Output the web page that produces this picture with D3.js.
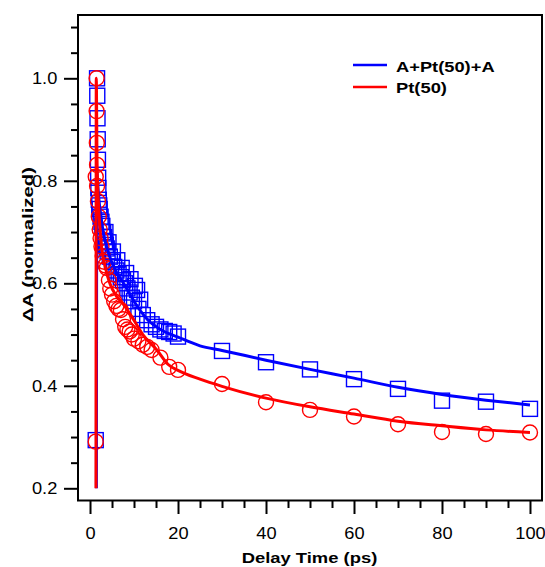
<!DOCTYPE html>
<html><head>
<meta charset="utf-8">
<script src="https://d3js.org/d3.v7.min.js"></script>
<style>
  body { margin: 0; background: #fff; }
  text { font-family: "Liberation Sans", Arial, sans-serif; }
  .tick line { stroke: black; stroke-width: 2px; }
</style>
</head>
<body>
<svg id="chart" width="545" height="567"></svg>
<script>

// A+Pt(50)+A, squares
const blueT = [1.3, 1.6, 1.65, 1.7, 1.75, 1.8, 1.85, 1.9, 2.0, 2.1, 2.2, 2.4, 2.6, 2.8, 3.0, 3.2, 3.4, 3.6, 3.8, 4.0,
  4.5, 5.0, 5.5, 6.0, 6.5, 7.0, 7.5, 8.0, 8.5, 9.0, 9.5, 10, 11, 12, 13, 14, 15, 16, 17, 18, 19, 20,
  3.5, 4.2, 5.2, 6.2, 7.2, 8.2, 9.2, 10.2, 10.7, 11.4,
  30, 40, 50, 60, 70, 80, 90, 100];
const blueV = [0.294, 1.0, 0.966, 0.922, 0.881, 0.841, 0.806, 0.786, 0.763, 0.752, 0.745, 0.73, 0.72, 0.712, 0.70, 0.69, 0.682, 0.675, 0.668, 0.662,
  0.652, 0.642, 0.632, 0.625, 0.618, 0.612, 0.606, 0.60, 0.59, 0.582, 0.572, 0.565, 0.55, 0.538, 0.528, 0.52, 0.515, 0.51, 0.507, 0.505, 0.502, 0.496,
  0.70, 0.68, 0.662, 0.645, 0.63, 0.62, 0.608, 0.595, 0.587, 0.568,
  0.468, 0.446, 0.432, 0.413, 0.394, 0.371, 0.369, 0.355];

// Pt(50), circles
const redT = [1.3, 1.5, 1.5, 1.55, 1.6, 1.3, 1.6, 1.8, 2.0, 2.2, 2.4, 2.6, 2.9, 3.2, 3.5, 3.8, 4.3, 4.6, 5.0, 5.5,
  6.0, 6.5, 7.0, 7.5, 8.0, 8.5, 9.0, 9.5, 10, 11, 12, 13, 14, 16, 18, 20,
  30, 40, 50, 60, 70, 80, 90, 100];
const redV = [0.291, 1.0, 0.936, 0.874, 0.831, 0.808, 0.79, 0.76, 0.73, 0.705, 0.688, 0.672, 0.653, 0.642, 0.635, 0.63, 0.606, 0.59, 0.578, 0.565,
  0.556, 0.55, 0.548, 0.53, 0.515, 0.51, 0.506, 0.5, 0.492, 0.487, 0.48, 0.476, 0.47, 0.455, 0.437, 0.431,
  0.4035, 0.368, 0.353, 0.340, 0.325, 0.310, 0.306, 0.309];

// fit curves
const blueFitT = [1.45, 1.55, 1.7, 2.0, 2.5, 3.0, 4.0, 5.0, 6.0, 8.0, 10, 13, 16, 20, 25, 30, 40, 50, 60, 70, 80, 90, 100];
const blueFitV = [0.2, 0.82, 0.80, 0.765, 0.73, 0.70, 0.665, 0.64, 0.622, 0.595, 0.565, 0.53, 0.51, 0.495, 0.478, 0.469, 0.450, 0.432, 0.415, 0.397, 0.383, 0.372, 0.3625];
const redFitT = [1.36, 1.42, 1.6, 1.9, 2.2, 2.65, 3.5, 4.5, 6, 7.5, 9.5, 12, 15.2, 17.7, 20, 25, 30, 40, 50, 60, 70, 80, 90, 100];
const redFitV = [0.2, 1.0, 0.84, 0.76, 0.715, 0.67, 0.63, 0.6, 0.575, 0.56, 0.535, 0.5, 0.47, 0.442, 0.43, 0.413, 0.399, 0.376, 0.359, 0.345, 0.331, 0.322, 0.314, 0.309];

const xMajor = [0, 20, 40, 60, 80, 100];
const xMinor = [5, 10, 15, 25, 30, 35, 45, 50, 55, 65, 70, 75, 85, 90, 95];
const yMajor = [0.2, 0.4, 0.6, 0.8, 1.0];
const yMinor = [0.25, 0.3, 0.35, 0.45, 0.5, 0.55, 0.65, 0.7, 0.75, 0.85, 0.9, 0.95, 1.05, 1.1];

const seriesNames = ["A+Pt(50)+A", "Pt(50)"];
const seriesColors = ["#0000ff", "#ff0000"];

const svg = d3.select("#chart");
const plot = { left: 78, right: 542, top: 15, bottom: 500.5 };

const x = d3.scaleLinear().domain([-2.73, 102.73]).range([plot.left, plot.right]);
const y = d3.scaleLinear().domain([0.2, 1.0]).range([488.3, 78.3]);

// frame
svg.append("rect")
  .attr("x", plot.left).attr("y", plot.top)
  .attr("width", plot.right - plot.left).attr("height", plot.bottom - plot.top)
  .attr("fill", "none").attr("stroke", "black").attr("stroke-width", 2);

// x axis
const gx = svg.append("g").attr("transform", "translate(0," + (plot.bottom + 0.5) + ")");
gx.call(d3.axisBottom(x).tickValues(xMajor).tickSize(13).tickFormat(d3.format("d")));
gx.select(".domain").remove();
gx.selectAll("text")
  .attr("y", 0).attr("dy", 0)
  .attr("fill", "black").attr("font-size", 16)
  .attr("transform", "translate(0,38) scale(1.14,1)");
const gxm = svg.append("g").attr("transform", "translate(0," + (plot.bottom + 0.5) + ")");
gxm.call(d3.axisBottom(x).tickValues(xMinor).tickSize(7).tickFormat(""));
gxm.select(".domain").remove();

// y axis
const gy = svg.append("g").attr("transform", "translate(" + plot.left + ",0)");
gy.call(d3.axisLeft(y).tickValues(yMajor).tickSize(14).tickFormat(d3.format(".1f")));
gy.select(".domain").remove();
gy.selectAll("text")
  .attr("x", 0).attr("dy", "0.35em")
  .attr("fill", "black").attr("font-size", 16)
  .attr("transform", "translate(-20.7,0) scale(1.14,1)");
const gym = svg.append("g").attr("transform", "translate(" + plot.left + ",0)");
gym.call(d3.axisLeft(y).tickValues(yMinor).tickSize(7).tickFormat(""));
gym.select(".domain").remove();

// axis titles
svg.append("text")
  .attr("x", 241.7).attr("y", 562.5)
  .attr("font-size", 15.5).attr("font-weight", "bold")
  .attr("textLength", 135.6).attr("lengthAdjust", "spacingAndGlyphs")
  .text("Delay Time (ps)");

svg.append("text")
  .attr("transform", "translate(33,322) rotate(-90)")
  .attr("font-size", 15.5).attr("font-weight", "bold")
  .attr("textLength", 155).attr("lengthAdjust", "spacingAndGlyphs")
  .text("ΔA (normalized)");

// markers
const blueData = blueT.map((t, i) => [t, blueV[i]]);
const redData = redT.map((t, i) => [t, redV[i]]);

svg.append("g").selectAll("rect")
  .data(blueData).join("rect")
  .attr("x", d => x(d[0]) - 7.5).attr("y", d => y(d[1]) - 7.5)
  .attr("width", 15).attr("height", 15)
  .attr("fill", "none").attr("stroke", seriesColors[0]).attr("stroke-width", 1.4);

svg.append("g").selectAll("circle")
  .data(redData).join("circle")
  .attr("cx", d => x(d[0])).attr("cy", d => y(d[1]))
  .attr("r", 7.5)
  .attr("fill", "none").attr("stroke", seriesColors[1]).attr("stroke-width", 1.4);

// fit lines
const line = d3.line().x(d => x(d[0])).y(d => y(d[1])).curve(d3.curveMonotoneX);

svg.append("path")
  .datum(blueFitT.map((t, i) => [t, blueFitV[i]]))
  .attr("d", line)
  .attr("fill", "none").attr("stroke", seriesColors[0]).attr("stroke-width", 3);

svg.append("path")
  .datum(redFitT.map((t, i) => [t, redFitV[i]]))
  .attr("d", line)
  .attr("fill", "none").attr("stroke", seriesColors[1]).attr("stroke-width", 3);

// legend
const legendY = [65, 87];
const legendBase = [71.7, 92.7];
const legendLen = [98.6, 51];
seriesNames.forEach((name, i) => {
  svg.append("line")
    .attr("x1", 353).attr("x2", 387)
    .attr("y1", legendY[i]).attr("y2", legendY[i])
    .attr("stroke", seriesColors[i]).attr("stroke-width", 2.5);
  svg.append("text")
    .attr("x", 396).attr("y", legendBase[i])
    .attr("font-size", 15.5).attr("font-weight", "bold")
    .attr("textLength", legendLen[i]).attr("lengthAdjust", "spacingAndGlyphs")
    .text(name);
});

</script>
</body>
</html>
